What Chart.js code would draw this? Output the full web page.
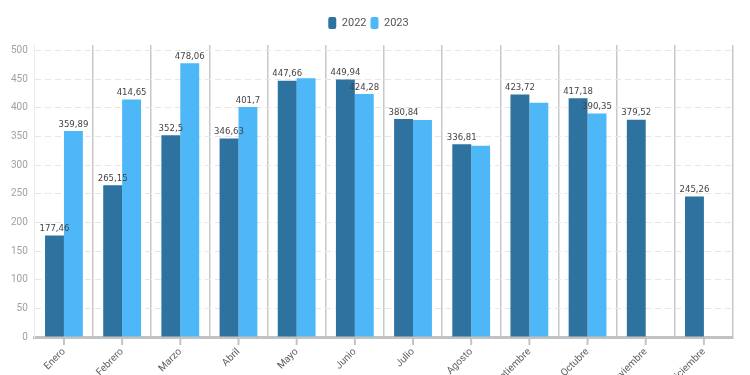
<!DOCTYPE html>
<html>
<head>
<meta charset="utf-8">
<script src="https://cdn.jsdelivr.net/npm/chart.js@4"></script>
<style>
  html, body { margin: 0; padding: 0; background: #fff; }
  #wrap { width: 750px; height: 375px; }
</style>
</head>
<body>
<div id="wrap"><canvas id="chart" width="750" height="375"></canvas></div>
<script>
// --- data ---
const months = ['Enero', 'Febrero', 'Marzo', 'Abril', 'Mayo', 'Junio', 'Julio', 'Agosto', 'Septiembre', 'Octubre', 'Noviembre', 'Diciembre'];
const values2022 = [177.46, 265.15, 352.5, 346.63, 447.66, 449.94, 380.84, 336.81, 423.72, 417.18, 379.52, 245.26];
const values2023 = [359.89, 414.65, 478.06, 401.7, 452, 424.28, 379, 334, 409, 390.35, null, null];
const show2022Label = [true, true, true, true, true, true, true, true, true, true, true, true];
const show2023Label = [true, true, true, true, false, true, false, false, false, true, false, false];
const yTicks = [0, 50, 100, 150, 200, 250, 300, 350, 400, 450, 500];

const DARK = '#2e72a0';
const LIGHT = '#4db7f7';

function fmt(v) {
    return String(v).replace('.', ',');
}

// value labels above bars
const barLabels = {
    id: 'barLabels',
    afterDatasetsDraw(chart) {
        const ctx = chart.ctx;
        const flags = [show2022Label, show2023Label];
        ctx.save();
        ctx.font = '9.5px "Liberation Sans Narrow", "DejaVu Sans Condensed", Roboto, sans-serif';
        ctx.fillStyle = '#444';
        ctx.textAlign = 'center';
        ctx.textBaseline = 'bottom';
        chart.data.datasets.forEach((ds, di) => {
            chart.getDatasetMeta(di).data.forEach((bar, i) => {
                if (ds.data[i] == null || !flags[di][i]) return;
                ctx.fillText(fmt(ds.data[i]), bar.x, bar.y - 2);
            });
        });
        ctx.restore();
    }
};

// short tick marks under the axis at category centres
const centreTicks = {
    id: 'centreTicks',
    afterDraw(chart) {
        const x = chart.scales.x;
        const ctx = chart.ctx;
        ctx.save();
        ctx.strokeStyle = '#c4c4c4';
        ctx.lineWidth = 2;
        months.forEach((m, i) => {
            const px = x.getPixelForValue(i);
            ctx.beginPath();
            ctx.moveTo(px, x.top + 2);
            ctx.lineTo(px, x.top + 8);
            ctx.stroke();
        });
        ctx.restore();
    }
};

// a bit more room under the legend
const legendGap = {
    id: 'legendGap',
    beforeInit(chart) {
        const fit = chart.legend.fit;
        chart.legend.fit = function () {
            fit.call(this);
            this.height += 6;
        };
    }
};

new Chart(document.getElementById('chart'), {
    type: 'bar',
    data: {
        labels: months,
        datasets: [
            { label: '2022', data: values2022, backgroundColor: DARK },
            { label: '2023', data: values2023, backgroundColor: LIGHT }
        ]
    },
    options: {
        responsive: false,
        animation: false,
        layout: { padding: { top: 13, right: 17, left: 4, bottom: 0 } },
        datasets: { bar: { categoryPercentage: 0.65, barPercentage: 1 } },
        scales: {
            x: {
                afterFit: scale => { scale.height = 38; },
                grid: {
                    offset: true,
                    drawTicks: false,
                    lineWidth: 1.5,
                    color: ctx => (ctx.index === 0 || ctx.index === months.length) ? 'rgba(0,0,0,0)' : '#c8c8c8'
                },
                border: { color: '#c2c2c2', width: 3 },
                ticks: {
                    autoSkip: false,
                    maxRotation: 45,
                    minRotation: 45,
                    padding: 9,
                    color: '#606060',
                    font: { family: 'Roboto', size: 10 }
                }
            },
            y: {
                min: 0,
                max: 510,
                afterBuildTicks: scale => {
                    scale.ticks = yTicks.map(v => ({ value: v }));
                },
                grid: {
                    color: '#e6e6e6',
                    drawTicks: false
                },
                border: { display: true, color: '#ececec', dash: [6, 4] },
                ticks: {
                    padding: 7,
                    color: '#a0a0a0',
                    font: { family: 'Roboto', size: 10 }
                }
            }
        },
        plugins: {
            legend: {
                position: 'top',
                labels: {
                    boxWidth: 8,
                    boxHeight: 12,
                    useBorderRadius: true,
                    borderRadius: 2,
                    padding: 4,
                    color: '#555',
                    font: { family: 'Roboto', size: 11 }
                }
            },
            tooltip: { enabled: false }
        }
    },
    plugins: [legendGap, barLabels, centreTicks]
});
</script>
</body>
</html>
